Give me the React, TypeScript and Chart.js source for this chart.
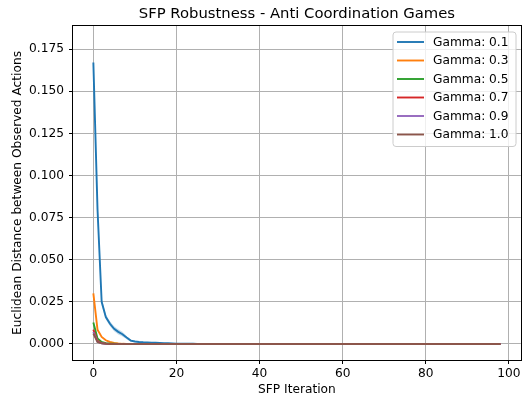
import React, { useEffect, useRef } from "react";
import { Chart, registerables } from "chart.js";

Chart.register(...registerables);

const chartTitle = "SFP Robustness - Anti Coordination Games";
const xAxisTitle = "SFP Iteration";
const yAxisTitle = "Euclidean Distance between Observed Actions";

const iterations = [
  0, 1, 2, 3, 4, 5, 6, 7, 8, 9,
  10, 11, 12, 13, 14, 15, 16, 17, 18, 19,
  20, 21, 22, 23, 24, 25, 26, 27, 28, 29,
  30, 31, 32, 33, 34, 35, 36, 37, 38, 39,
  40, 41, 42, 43, 44, 45, 46, 47, 48, 49,
  50, 51, 52, 53, 54, 55, 56, 57, 58, 59,
  60, 61, 62, 63, 64, 65, 66, 67, 68, 69,
  70, 71, 72, 73, 74, 75, 76, 77, 78, 79,
  80, 81, 82, 83, 84, 85, 86, 87, 88, 89,
  90, 91, 92, 93, 94, 95, 96, 97, 98,
];

const gamma01 = [
  0.167, 0.08, 0.025, 0.016, 0.012, 0.009, 0.0072, 0.0058, 0.0038, 0.002,
  0.0015, 0.0012, 0.001, 0.0009, 0.0008, 0.0007, 0.0006, 0.0005, 0.0004, 0.0003,
  0.0002, 0.0002, 0.0001, 0.0001, 0.0001, 0, 0, 0, 0, 0,
  0, 0, 0, 0, 0, 0, 0, 0, 0, 0,
  0, 0, 0, 0, 0, 0, 0, 0, 0, 0,
  0, 0, 0, 0, 0, 0, 0, 0, 0, 0,
  0, 0, 0, 0, 0, 0, 0, 0, 0, 0,
  0, 0, 0, 0, 0, 0, 0, 0, 0, 0,
  0, 0, 0, 0, 0, 0, 0, 0, 0, 0,
  0, 0, 0, 0, 0, 0, 0, 0, 0,
];
const gamma01Upper = [
  0.17, 0.085, 0.027, 0.0175, 0.0135, 0.0105, 0.0087, 0.0072, 0.0048, 0.0027,
  0.002, 0.0016, 0.0013,
];
const gamma01Lower = [
  0.164, 0.075, 0.023, 0.0145, 0.0105, 0.0075, 0.0057, 0.0044, 0.0028, 0.0013,
  0.001, 0.0008, 0.0007,
];
const gamma03 = [
  0.03, 0.0085, 0.0042, 0.0022, 0.0012, 0.0006, 0.0003, 0.0001, 0, 0,
  0, 0, 0, 0, 0, 0, 0, 0, 0, 0,
  0, 0, 0, 0, 0, 0, 0, 0, 0, 0,
  0, 0, 0, 0, 0, 0, 0, 0, 0, 0,
  0, 0, 0, 0, 0, 0, 0, 0, 0, 0,
  0, 0, 0, 0, 0, 0, 0, 0, 0, 0,
  0, 0, 0, 0, 0, 0, 0, 0, 0, 0,
  0, 0, 0, 0, 0, 0, 0, 0, 0, 0,
  0, 0, 0, 0, 0, 0, 0, 0, 0, 0,
  0, 0, 0, 0, 0, 0, 0, 0, 0,
];
const gamma05 = [
  0.0128, 0.0032, 0.0012, 0.0005, 0.0002, 0.0001, 0, 0, 0, 0,
  0, 0, 0, 0, 0, 0, 0, 0, 0, 0,
  0, 0, 0, 0, 0, 0, 0, 0, 0, 0,
  0, 0, 0, 0, 0, 0, 0, 0, 0, 0,
  0, 0, 0, 0, 0, 0, 0, 0, 0, 0,
  0, 0, 0, 0, 0, 0, 0, 0, 0, 0,
  0, 0, 0, 0, 0, 0, 0, 0, 0, 0,
  0, 0, 0, 0, 0, 0, 0, 0, 0, 0,
  0, 0, 0, 0, 0, 0, 0, 0, 0, 0,
  0, 0, 0, 0, 0, 0, 0, 0, 0,
];
const gamma07 = [
  0.0085, 0.0018, 0.0006, 0.0002, 0, 0, 0, 0, 0, 0,
  0, 0, 0, 0, 0, 0, 0, 0, 0, 0,
  0, 0, 0, 0, 0, 0, 0, 0, 0, 0,
  0, 0, 0, 0, 0, 0, 0, 0, 0, 0,
  0, 0, 0, 0, 0, 0, 0, 0, 0, 0,
  0, 0, 0, 0, 0, 0, 0, 0, 0, 0,
  0, 0, 0, 0, 0, 0, 0, 0, 0, 0,
  0, 0, 0, 0, 0, 0, 0, 0, 0, 0,
  0, 0, 0, 0, 0, 0, 0, 0, 0, 0,
  0, 0, 0, 0, 0, 0, 0, 0, 0,
];
const gamma09 = [
  0.0072, 0.0013, 0.0004, 0.0001, 0, 0, 0, 0, 0, 0,
  0, 0, 0, 0, 0, 0, 0, 0, 0, 0,
  0, 0, 0, 0, 0, 0, 0, 0, 0, 0,
  0, 0, 0, 0, 0, 0, 0, 0, 0, 0,
  0, 0, 0, 0, 0, 0, 0, 0, 0, 0,
  0, 0, 0, 0, 0, 0, 0, 0, 0, 0,
  0, 0, 0, 0, 0, 0, 0, 0, 0, 0,
  0, 0, 0, 0, 0, 0, 0, 0, 0, 0,
  0, 0, 0, 0, 0, 0, 0, 0, 0, 0,
  0, 0, 0, 0, 0, 0, 0, 0, 0,
];
const gamma10 = [
  0.0062, 0.0012, 0.0004, 0.0001, 0, 0, 0, 0, 0, 0,
  0, 0, 0, 0, 0, 0, 0, 0, 0, 0,
  0, 0, 0, 0, 0, 0, 0, 0, 0, 0,
  0, 0, 0, 0, 0, 0, 0, 0, 0, 0,
  0, 0, 0, 0, 0, 0, 0, 0, 0, 0,
  0, 0, 0, 0, 0, 0, 0, 0, 0, 0,
  0, 0, 0, 0, 0, 0, 0, 0, 0, 0,
  0, 0, 0, 0, 0, 0, 0, 0, 0, 0,
  0, 0, 0, 0, 0, 0, 0, 0, 0, 0,
  0, 0, 0, 0, 0, 0, 0, 0, 0,
];

const seriesLabels = [
  "Gamma: 0.1",
  "Gamma: 0.3",
  "Gamma: 0.5",
  "Gamma: 0.7",
  "Gamma: 0.9",
  "Gamma: 1.0",
];
const seriesValues = [gamma01, gamma03, gamma05, gamma07, gamma09, gamma10];
const seriesColors = ["#1f77b4", "#ff7f0e", "#2ca02c", "#d62728", "#9467bd", "#8c564b"];

const xTickValues = [0, 20, 40, 60, 80, 100];
const yTickValues = [0, 0.025, 0.05, 0.075, 0.1, 0.125, 0.15, 0.175];

const FONT = "'DejaVu Sans', 'Liberation Sans', sans-serif";

const frameAndTextPlugin = {
  id: "frameAndText",
  afterDatasetsDraw(chart: any) {
    const { ctx, chartArea } = chart;
    const { left, right, top, bottom } = chartArea;
    ctx.save();
    ctx.strokeStyle = "#000000";
    ctx.lineWidth = 1;
    ctx.strokeRect(Math.round(left) - 0.5, Math.round(top) - 0.5, Math.round(right - left) + 1, Math.round(bottom - top) + 1);
    ctx.restore();
  },
  afterDraw(chart: any) {
    const { ctx, chartArea } = chart;
    ctx.save();
    // title
    ctx.fillStyle = "#000000";
    ctx.font = `14.8px ${FONT}`;
    ctx.textAlign = "center";
    ctx.textBaseline = "alphabetic";
    ctx.fillText(chartTitle, (chartArea.left + chartArea.right) / 2, 18);

    // legend
    const boxL = 393;
    const boxT = 32;
    const boxR = 516;
    const rowH = 18.5;
    const firstY = 42;
    const boxB = firstY + rowH * (seriesLabels.length - 1) + 12;
    ctx.beginPath();
    const r = 3;
    ctx.moveTo(boxL + r, boxT);
    ctx.lineTo(boxR - r, boxT);
    ctx.quadraticCurveTo(boxR, boxT, boxR, boxT + r);
    ctx.lineTo(boxR, boxB - r);
    ctx.quadraticCurveTo(boxR, boxB, boxR - r, boxB);
    ctx.lineTo(boxL + r, boxB);
    ctx.quadraticCurveTo(boxL, boxB, boxL, boxB - r);
    ctx.lineTo(boxL, boxT + r);
    ctx.quadraticCurveTo(boxL, boxT, boxL + r, boxT);
    ctx.closePath();
    ctx.fillStyle = "rgba(255,255,255,0.8)";
    ctx.fill();
    ctx.strokeStyle = "#cccccc";
    ctx.lineWidth = 1;
    ctx.stroke();

    ctx.font = `12.2px ${FONT}`;
    ctx.textAlign = "left";
    ctx.textBaseline = "middle";
    seriesLabels.forEach((label, i) => {
      const y = firstY + i * rowH;
      ctx.strokeStyle = seriesColors[i];
      ctx.lineWidth = 1.9;
      ctx.beginPath();
      ctx.moveTo(397, y);
      ctx.lineTo(424, y);
      ctx.stroke();
      ctx.fillStyle = "#000000";
      ctx.fillText(label, 433, y + 0.5);
    });
    ctx.restore();
  },
};

export default function App() {
  const canvasRef = useRef<HTMLCanvasElement | null>(null);

  useEffect(() => {
    document.body.style.margin = "0";
    const canvas = canvasRef.current;
    if (!canvas) return;

    const lineDatasets = seriesValues.map((vals, i) => ({
      label: seriesLabels[i],
      data: vals,
      borderColor: seriesColors[i],
      backgroundColor: seriesColors[i],
      borderWidth: 1.9,
      pointRadius: 0,
      tension: 0,
      fill: false,
      order: 10 - i,
    }));

    const chart = new Chart(canvas, {
      type: "line",
      data: {
        labels: iterations,
        datasets: [
          {
            label: "band-upper",
            data: gamma01Upper,
            borderWidth: 0,
            borderColor: "rgba(0,0,0,0)",
            backgroundColor: "rgba(31,119,180,0.25)",
            pointRadius: 0,
            tension: 0,
            fill: 1,
            order: 20,
          },
          {
            label: "band-lower",
            data: gamma01Lower,
            borderWidth: 0,
            borderColor: "rgba(0,0,0,0)",
            pointRadius: 0,
            tension: 0,
            fill: false,
            order: 21,
          },
          ...lineDatasets,
        ] as any,
      },
      options: {
        animation: false,
        responsive: false,
        devicePixelRatio: 1,
        layout: { padding: { top: 26, right: 2, left: 0, bottom: 0 } },
        plugins: {
          legend: { display: false },
          title: { display: false },
          tooltip: { enabled: false },
        },
        scales: {
          x: {
            type: "linear",
            min: -4.9,
            max: 102.9,
            afterBuildTicks: (scale: any) => {
              scale.ticks = xTickValues.map((v) => ({ value: v }));
            },
            afterFit: (scale: any) => {
              scale.height = 42;
            },
            grid: {
              color: "#b0b0b0",
              lineWidth: 1,
              drawTicks: true,
              tickLength: 4,
              tickColor: "#000000",
            },
            border: { display: false },
            ticks: {
              color: "#000000",
              font: { family: FONT, size: 12.2 },
              padding: 2.5,
              maxRotation: 0,
              autoSkip: false,
              callback: (v: any) => String(v),
            },
            title: {
              display: true,
              text: xAxisTitle,
              color: "#000000",
              font: { family: FONT, size: 12.2 },
              padding: { top: 0, bottom: 4.7 },
            },
          },
          y: {
            type: "linear",
            min: -0.0095,
            max: 0.1887,
            afterBuildTicks: (scale: any) => {
              scale.ticks = yTickValues.map((v) => ({ value: v }));
            },
            afterFit: (scale: any) => {
              scale.width = 73;
            },
            grid: {
              color: "#b0b0b0",
              lineWidth: 1,
              drawTicks: true,
              tickLength: 4,
              tickColor: "#000000",
            },
            border: { display: false },
            ticks: {
              color: "#000000",
              font: { family: FONT, size: 12.2 },
              padding: 5,
              autoSkip: false,
              callback: (v: any) => Number(v).toFixed(3),
            },
            title: {
              display: true,
              text: yAxisTitle,
              color: "#000000",
              font: { family: FONT, size: 12.2 },
              padding: { top: 10.7, bottom: 0 },
            },
          },
        },
      } as any,
      plugins: [frameAndTextPlugin],
    });

    return () => {
      chart.destroy();
    };
  }, []);

  return (
    <div style={{ width: 523, height: 402, background: "#ffffff" }}>
      <canvas ref={canvasRef} width={523} height={402} style={{ display: "block" }} />
    </div>
  );
}
